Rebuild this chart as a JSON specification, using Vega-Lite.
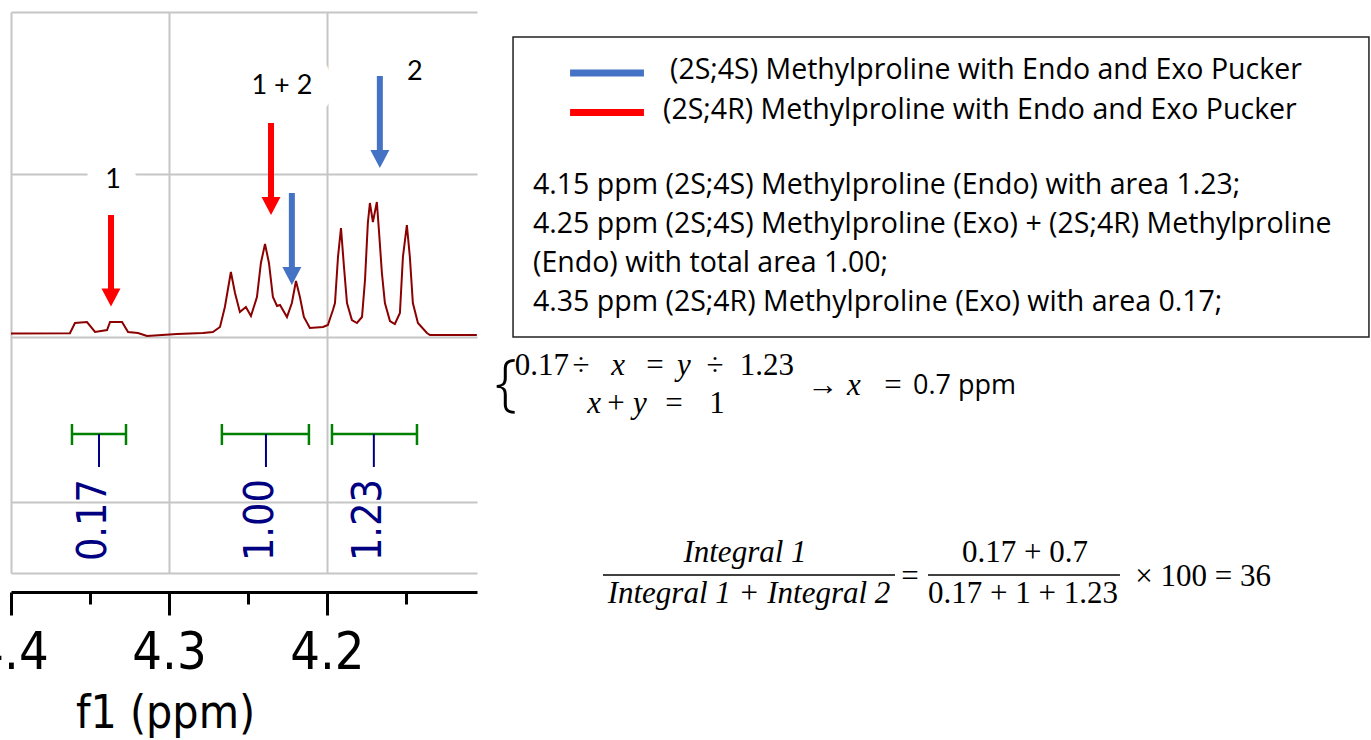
{
  "$schema": "https://vega.github.io/schema/vega-lite/v6.json",
  "width": 466,
  "height": 561,
  "autosize": {"type": "none"},
  "padding": {"left": 11, "top": 12, "right": 894, "bottom": 167},
  "background": "white",
  "config": {"view": {"stroke": null}},
  "datasets": {
    "spectrum": [
      {"ppm": 4.4, "intensity": 3.5}, {"ppm": 4.3627, "intensity": 3.7}, {"ppm": 4.3595, "intensity": 14},
      {"ppm": 4.3519, "intensity": 15}, {"ppm": 4.3468, "intensity": 5}, {"ppm": 4.3392, "intensity": 7},
      {"ppm": 4.3373, "intensity": 15}, {"ppm": 4.3297, "intensity": 15}, {"ppm": 4.3259, "intensity": 5},
      {"ppm": 4.3196, "intensity": 4}, {"ppm": 4.3139, "intensity": 1}, {"ppm": 4.2949, "intensity": 3},
      {"ppm": 4.2785, "intensity": 4}, {"ppm": 4.2722, "intensity": 5}, {"ppm": 4.2677, "intensity": 10},
      {"ppm": 4.2646, "intensity": 30}, {"ppm": 4.2608, "intensity": 65}, {"ppm": 4.2582, "intensity": 44},
      {"ppm": 4.2551, "intensity": 25}, {"ppm": 4.2513, "intensity": 30}, {"ppm": 4.2481, "intensity": 21},
      {"ppm": 4.2443, "intensity": 40}, {"ppm": 4.2418, "intensity": 74}, {"ppm": 4.2392, "intensity": 93},
      {"ppm": 4.2367, "intensity": 74}, {"ppm": 4.2342, "intensity": 40}, {"ppm": 4.2316, "intensity": 31},
      {"ppm": 4.2297, "intensity": 32}, {"ppm": 4.2253, "intensity": 20}, {"ppm": 4.2222, "intensity": 34},
      {"ppm": 4.2196, "intensity": 56}, {"ppm": 4.2171, "intensity": 40}, {"ppm": 4.2146, "intensity": 20},
      {"ppm": 4.2108, "intensity": 9}, {"ppm": 4.2025, "intensity": 10}, {"ppm": 4.1994, "intensity": 12},
      {"ppm": 4.1962, "intensity": 27}, {"ppm": 4.1949, "intensity": 34}, {"ppm": 4.193, "intensity": 80},
      {"ppm": 4.1911, "intensity": 109}, {"ppm": 4.1892, "intensity": 70}, {"ppm": 4.1873, "intensity": 34},
      {"ppm": 4.1842, "intensity": 17}, {"ppm": 4.181, "intensity": 14}, {"ppm": 4.1778, "intensity": 20},
      {"ppm": 4.1759, "intensity": 57}, {"ppm": 4.1741, "intensity": 114}, {"ppm": 4.1728, "intensity": 134},
      {"ppm": 4.1709, "intensity": 115}, {"ppm": 4.1684, "intensity": 135}, {"ppm": 4.1671, "intensity": 107},
      {"ppm": 4.1652, "intensity": 64}, {"ppm": 4.1633, "intensity": 34}, {"ppm": 4.1601, "intensity": 16},
      {"ppm": 4.157, "intensity": 13}, {"ppm": 4.1538, "intensity": 24}, {"ppm": 4.1519, "intensity": 80},
      {"ppm": 4.1494, "intensity": 112}, {"ppm": 4.1475, "intensity": 80}, {"ppm": 4.1456, "intensity": 34},
      {"ppm": 4.1424, "intensity": 14}, {"ppm": 4.1367, "intensity": 4}, {"ppm": 4.1348, "intensity": 2},
      {"ppm": 4.1051, "intensity": 2}
    ],
    "integrals": [
      {"from": 4.3614, "to": 4.3272, "mid": 4.3443, "area": "0.17"},
      {"from": 4.2665, "to": 4.2114, "mid": 4.2386, "area": "1.00"},
      {"from": 4.1968, "to": 4.143, "mid": 4.1703, "area": "1.23"}
    ],
    "arrows": [
      {"ppm": 4.3367, "top": 122, "head": 39.5, "series": "(2S;4R)"},
      {"ppm": 4.2354, "top": 214, "head": 131, "series": "(2S;4R)"},
      {"ppm": 4.2222, "top": 144, "head": 61, "series": "(2S;4S)"},
      {"ppm": 4.1665, "top": 261, "head": 178, "series": "(2S;4S)"}
    ],
    "peaklabels": [
      {"ppm": 4.3354, "h": 157, "text": "1"},
      {"ppm": 4.2285, "h": 251, "text": "1 + 2"},
      {"ppm": 4.1443, "h": 265, "text": "2"}
    ],
    "box": [{"x": 37.42, "x2": 99.85, "y": 5.0, "y2": 45.54}],
    "swatches": [
      {"x": 41.58, "x2": 46.97, "y": 9.86, "series": "(2S;4S)"},
      {"x": 41.58, "x2": 46.97, "y": 15.2, "series": "(2S;4R)"}
    ],
    "lines": [
      {"x": 48.87, "y": 9.46, "text": "(2S;4S) Methylproline with Endo and Exo Pucker"},
      {"x": 48.36, "y": 14.86, "text": "(2S;4R) Methylproline with Endo and Exo Pucker"},
      {"x": 38.88, "y": 25.0, "text": "4.15 ppm (2S;4S) Methylproline (Endo) with area 1.23;"},
      {"x": 38.88, "y": 30.27, "text": "4.25 ppm (2S;4S) Methylproline (Exo) + (2S;4R) Methylproline"},
      {"x": 38.88, "y": 35.54, "text": "(Endo) with total area 1.00;"},
      {"x": 38.88, "y": 40.81, "text": "4.35 ppm (2S;4R) Methylproline (Exo)  with area 0.17;"}
    ],
    "ppmNote": [
      {"x": 66.59, "y": 52.16, "text": "0.7 ppm"}
    ],
    "mathUpright": [
      {"x": 39.53, "y": 49.46, "text": "0.17"},
      {"x": 42.38, "y": 49.46, "text": "÷"},
      {"x": 47.78, "y": 49.46, "text": "="},
      {"x": 52.15, "y": 49.46, "text": "÷"},
      {"x": 55.94, "y": 49.46, "text": "1.23"},
      {"x": 44.93, "y": 54.59, "text": "+"},
      {"x": 49.16, "y": 54.59, "text": "="},
      {"x": 52.3, "y": 54.59, "text": "1"},
      {"x": 60.03, "y": 52.16, "text": "→"},
      {"x": 65.14, "y": 52.16, "text": "="},
      {"x": 66.37, "y": 77.97, "text": "="},
      {"x": 74.76, "y": 74.73, "text": "0.17 + 0.7"},
      {"x": 74.62, "y": 80.27, "text": "0.17 + 1 + 1.23"},
      {"x": 87.75, "y": 77.97, "text": "×  100 = 36"}
    ],
    "mathItalic": [
      {"x": 45.08, "y": 49.46, "text": "x"},
      {"x": 49.89, "y": 49.46, "text": "y"},
      {"x": 43.33, "y": 54.59, "text": "x"},
      {"x": 46.68, "y": 54.59, "text": "y"},
      {"x": 62.29, "y": 52.16, "text": "x"},
      {"x": 54.34, "y": 74.73, "text": "Integral 1"},
      {"x": 54.63, "y": 80.27, "text": "Integral 1 + Integral 2"}
    ],
    "brace": [{"x": 36.9, "y": 52.0, "text": "{"}],
    "fracbars": [
      {"x": 43.98, "x2": 65.28, "y": 77.7},
      {"x": 67.69, "x2": 81.69, "y": 77.7}
    ]
  },
  "layer": [
    {
      "layer": [
        {
          "data": {"name": "spectrum"},
          "mark": {"type": "line", "color": "#8b0000", "strokeWidth": 2},
          "encoding": {
            "x": {
              "field": "ppm", "type": "quantitative",
              "scale": {"domain": [4.105, 4.4], "reverse": true, "nice": false, "zero": false},
              "axis": {
                "values": [4.4, 4.35, 4.3, 4.25, 4.2, 4.15],
                "offset": 19,
                "domainColor": "black", "domainWidth": 3,
                "tickColor": "black", "tickWidth": 3,
                "tickSize": {"condition": {"test": "abs(datum.value*10 - round(datum.value*10)) < 0.01", "value": 23}, "value": 12},
                "grid": true, "gridColor": "#c6c6c6", "gridWidth": 2,
                "gridOpacity": {"condition": {"test": "abs(datum.value*10 - round(datum.value*10)) < 0.01", "value": 1}, "value": 0},
                "labelExpr": "abs(datum.value*10 - round(datum.value*10)) < 0.01 ? format(datum.value, '.1f') : ''",
                "labelFont": "DejaVu Sans Condensed",
                "labelFontSize": 52, "labelColor": "black", "labelPadding": 12,
                "labelOverlap": false, "labelFlush": false, "labelBound": false,
                "title": "f1 (ppm)",
                "titleFont": "DejaVu Sans Condensed", "titleFontSize": 46, "titleFontWeight": "normal",
                "titleColor": "black", "titleX": 154, "titleY": 135,
                "titleBaseline": "alphabetic", "titleAlign": "center", "titleAnchor": "start"
              }
            },
            "y": {
              "field": "intensity", "type": "quantitative",
              "scale": {"domain": [-236, 325], "nice": false, "zero": false},
              "axis": {
                "values": [-236, -165, 0, 163, 325],
                "grid": true, "gridColor": "#c6c6c6", "gridWidth": 2,
                "labels": false, "ticks": false, "domain": false, "title": null
              }
            }
          }
        },
        {
          "data": {"name": "integrals"},
          "mark": {"type": "rule", "color": "#008000", "strokeWidth": 2.5},
          "encoding": {
            "x": {"field": "from", "type": "quantitative"},
            "x2": {"field": "to"},
            "y": {"datum": -97, "type": "quantitative"}
          }
        },
        {
          "data": {"name": "integrals"},
          "transform": [{"fold": ["from", "to"], "as": ["end", "pos"]}],
          "mark": {"type": "rule", "color": "#008000", "strokeWidth": 2.5},
          "encoding": {
            "x": {"field": "pos", "type": "quantitative"},
            "y": {"datum": -87, "type": "quantitative"},
            "y2": {"datum": -108}
          }
        },
        {
          "data": {"name": "integrals"},
          "mark": {"type": "rule", "color": "#000080", "strokeWidth": 2},
          "encoding": {
            "x": {"field": "mid", "type": "quantitative"},
            "y": {"datum": -97, "type": "quantitative"},
            "y2": {"datum": -130}
          }
        },
        {
          "data": {"name": "integrals"},
          "mark": {"type": "text", "angle": 270, "align": "right", "baseline": "middle", "dy": -5,
                   "font": "DejaVu Sans Condensed", "fontSize": 41, "color": "#000080"},
          "encoding": {
            "x": {"field": "mid", "type": "quantitative"},
            "y": {"datum": -142, "type": "quantitative"},
            "text": {"field": "area"}
          }
        },
        {
          "data": {"name": "peaklabels"},
          "mark": {"type": "text", "font": "Lato", "fontSize": 27, "color": "white", "stroke": "white", "strokeWidth": 40, "strokeJoin": "round", "align": "center", "baseline": "middle"},
          "encoding": {
            "x": {"field": "ppm", "type": "quantitative"},
            "y": {"field": "h", "type": "quantitative"},
            "text": {"field": "text"}
          }
        },
        {
          "data": {"name": "peaklabels"},
          "mark": {"type": "text", "font": "Lato", "fontSize": 27, "color": "black", "align": "center", "baseline": "middle"},
          "encoding": {
            "x": {"field": "ppm", "type": "quantitative"},
            "y": {"field": "h", "type": "quantitative"},
            "text": {"field": "text"}
          }
        },
        {
          "data": {"name": "arrows"},
          "mark": {"type": "rule", "strokeWidth": 6},
          "encoding": {
            "x": {"field": "ppm", "type": "quantitative"},
            "y": {"field": "top", "type": "quantitative"},
            "y2": {"field": "head"},
            "color": {"field": "series", "type": "nominal", "scale": {"domain": ["(2S;4S)", "(2S;4R)"], "range": ["#4472c4", "#ff0000"]}, "legend": null}
          }
        },
        {
          "data": {"name": "arrows"},
          "mark": {"type": "point", "shape": "M-1,-0.95L1,-0.95L0,0.95Z", "size": 361, "filled": true, "opacity": 1, "strokeWidth": 0},
          "encoding": {
            "x": {"field": "ppm", "type": "quantitative"},
            "y": {"field": "head", "type": "quantitative"},
            "color": {"field": "series", "type": "nominal", "scale": {"domain": ["(2S;4S)", "(2S;4R)"], "range": ["#4472c4", "#ff0000"]}, "legend": null}
          }
        }
      ]
    },
    {
      "layer": [
        {
          "data": {"name": "box"},
          "mark": {"type": "rect", "fillOpacity": 0, "stroke": "#222222", "strokeWidth": 1.5},
          "encoding": {
            "x": {"field": "x", "type": "quantitative", "scale": {"domain": [0, 100], "range": [-11, 1360], "nice": false, "zero": false}, "axis": null},
            "x2": {"field": "x2"},
            "y": {"field": "y", "type": "quantitative", "scale": {"domain": [0, 100], "range": [-12, 728], "nice": false, "zero": false}, "axis": null},
            "y2": {"field": "y2"}
          }
        },
        {
          "data": {"name": "swatches"},
          "mark": {"type": "rule", "strokeWidth": 7},
          "encoding": {
            "x": {"field": "x", "type": "quantitative", "scale": {"domain": [0, 100], "range": [-11, 1360], "nice": false, "zero": false}, "axis": null},
            "x2": {"field": "x2"},
            "y": {"field": "y", "type": "quantitative", "scale": {"domain": [0, 100], "range": [-12, 728], "nice": false, "zero": false}, "axis": null},
            "color": {"field": "series", "type": "nominal", "scale": {"domain": ["(2S;4S)", "(2S;4R)"], "range": ["#4472c4", "#ff0000"]}, "legend": null}
          }
        },
        {
          "data": {"name": "lines"},
          "mark": {"type": "text", "align": "left", "baseline": "middle", "font": "Open Sans", "fontSize": 28.5, "color": "black"},
          "encoding": {
            "x": {"field": "x", "type": "quantitative", "scale": {"domain": [0, 100], "range": [-11, 1360], "nice": false, "zero": false}, "axis": null},
            "y": {"field": "y", "type": "quantitative", "scale": {"domain": [0, 100], "range": [-12, 728], "nice": false, "zero": false}, "axis": null},
            "text": {"field": "text"}
          }
        },
        {
          "data": {"name": "ppmNote"},
          "mark": {"type": "text", "align": "left", "baseline": "middle", "font": "Open Sans", "fontSize": 27, "color": "black"},
          "encoding": {
            "x": {"field": "x", "type": "quantitative", "scale": {"domain": [0, 100], "range": [-11, 1360], "nice": false, "zero": false}, "axis": null},
            "y": {"field": "y", "type": "quantitative", "scale": {"domain": [0, 100], "range": [-12, 728], "nice": false, "zero": false}, "axis": null},
            "text": {"field": "text"}
          }
        },
        {
          "data": {"name": "mathUpright"},
          "mark": {"type": "text", "align": "center", "baseline": "middle", "font": "Liberation Serif", "fontSize": 31, "color": "black"},
          "encoding": {
            "x": {"field": "x", "type": "quantitative", "scale": {"domain": [0, 100], "range": [-11, 1360], "nice": false, "zero": false}, "axis": null},
            "y": {"field": "y", "type": "quantitative", "scale": {"domain": [0, 100], "range": [-12, 728], "nice": false, "zero": false}, "axis": null},
            "text": {"field": "text"}
          }
        },
        {
          "data": {"name": "mathItalic"},
          "mark": {"type": "text", "align": "center", "baseline": "middle", "font": "Liberation Serif", "fontStyle": "italic", "fontSize": 31, "color": "black"},
          "encoding": {
            "x": {"field": "x", "type": "quantitative", "scale": {"domain": [0, 100], "range": [-11, 1360], "nice": false, "zero": false}, "axis": null},
            "y": {"field": "y", "type": "quantitative", "scale": {"domain": [0, 100], "range": [-12, 728], "nice": false, "zero": false}, "axis": null},
            "text": {"field": "text"}
          }
        },
        {
          "data": {"name": "brace"},
          "mark": {"type": "text", "align": "center", "baseline": "middle", "font": "Open Sans", "fontWeight": 300, "fontSize": 62, "color": "black"},
          "encoding": {
            "x": {"field": "x", "type": "quantitative", "scale": {"domain": [0, 100], "range": [-11, 1360], "nice": false, "zero": false}, "axis": null},
            "y": {"field": "y", "type": "quantitative", "scale": {"domain": [0, 100], "range": [-12, 728], "nice": false, "zero": false}, "axis": null},
            "text": {"field": "text"}
          }
        },
        {
          "data": {"name": "fracbars"},
          "mark": {"type": "rule", "color": "black", "strokeWidth": 1.5},
          "encoding": {
            "x": {"field": "x", "type": "quantitative", "scale": {"domain": [0, 100], "range": [-11, 1360], "nice": false, "zero": false}, "axis": null},
            "x2": {"field": "x2"},
            "y": {"field": "y", "type": "quantitative", "scale": {"domain": [0, 100], "range": [-12, 728], "nice": false, "zero": false}, "axis": null}
          }
        }
      ]
    }
  ],
  "resolve": {"scale": {"x": "independent", "y": "independent"}}
}
